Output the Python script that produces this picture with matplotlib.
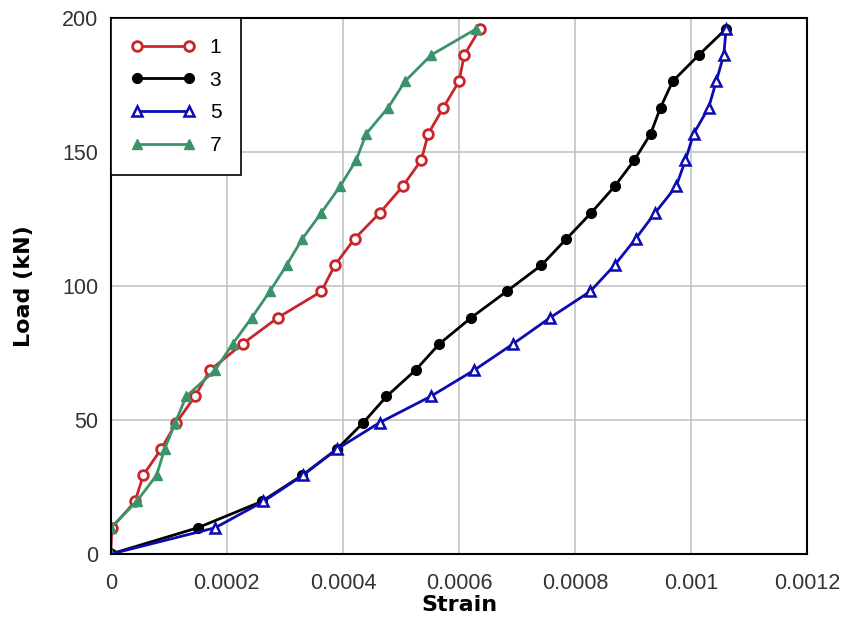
import matplotlib.pyplot as plt

plt.rcParams['font.family'] = ['Liberation Sans', 'DejaVu Sans']

# load steps (kN)
load = [0, 9.8, 19.6, 29.4, 39.2, 49, 58.8, 68.6, 78.4, 88.2, 98,
        107.8, 117.6, 127.4, 137.2, 147, 156.8, 166.6, 176.4, 186.2, 196]

strain_1 = [0, 0.000002, 0.000042, 0.000056, 0.000087, 0.000113, 0.000145,
            0.000171, 0.000227, 0.000288, 0.000363, 0.000386, 0.00042,
            0.000464, 0.000503, 0.000535, 0.000547, 0.000573, 0.0006,
            0.000609, 0.000636]
strain_3 = [0, 0.00015, 0.00026, 0.00033, 0.00039, 0.000435, 0.000475,
            0.000525, 0.000566, 0.000621, 0.000682, 0.000742, 0.000785,
            0.000828, 0.000868, 0.000902, 0.00093, 0.000947, 0.000968,
            0.001013, 0.00106]
strain_5 = [0, 0.00018, 0.000263, 0.000331, 0.00039, 0.000463, 0.000551,
            0.000626, 0.000693, 0.000757, 0.000826, 0.000868, 0.000904,
            0.000938, 0.000974, 0.00099, 0.001004, 0.00103, 0.001043,
            0.001056, 0.00106]
strain_7 = [0, 0, 0.0000447, 0.000079, 0.000093, 0.000111, 0.00013,
            0.00018, 0.00021, 0.000243, 0.000274, 0.000303, 0.00033,
            0.000363, 0.000395, 0.000423, 0.00044, 0.000478, 0.000507,
            0.000552, 0.00063]

xticks = [0, 0.0002, 0.0004, 0.0006, 0.0008, 0.001, 0.0012]
xtick_labels = ['0', '0.0002', '0.0004', '0.0006', '0.0008', '0.001', '0.0012']
yticks = [0, 50, 100, 150, 200]

fig = plt.figure(figsize=(8.49, 6.30), dpi=100)
ax = fig.add_axes([0.1304, 0.1206, 0.8206, 0.8508])

ax.plot(strain_1, load, color='#c8262a', lw=2, marker='o', ms=7,
        mfc='white', mec='#c8262a', mew=2, label='1')
ax.plot(strain_3, load, color='black', lw=2, marker='o', ms=7,
        mfc='black', mec='black', label='3')
ax.plot(strain_5, load, color='#0b0bb0', lw=2, marker='^', ms=7,
        mfc='white', mec='#0b0bb0', mew=1.8, label='5')
ax.plot(strain_7, load, color='#3b936b', lw=2, marker='^', ms=7,
        mfc='#3b936b', mec='#3b936b', label='7')

ax.set_xlim(0, 0.0012)
ax.set_ylim(0, 200)
ax.set_xticks(xticks)
ax.set_xticklabels(xtick_labels)
ax.set_yticks(yticks)
ax.tick_params(length=0, labelsize=15.5, labelcolor='#333333')
ax.tick_params(axis='x', pad=14)
ax.tick_params(axis='y', pad=9)
ax.grid(True, color='#c4c4c4', lw=1.2)
ax.set_axisbelow(True)
for s in ax.spines.values():
    s.set_linewidth(1.5)

ax.set_xlabel('Strain', fontsize=16, fontweight='bold', family='DejaVu Sans')
ax.set_ylabel('Load (kN)', fontsize=16, fontweight='bold', family='DejaVu Sans')
ax.xaxis.set_label_coords(0.5, -0.076)
ax.yaxis.set_label_coords(-0.11, 0.5)

leg = ax.legend(loc='upper left', fontsize=15, fancybox=False,
                edgecolor='black', framealpha=1, borderaxespad=0,
                numpoints=2, handlelength=3.1, handletextpad=0.7,
                labelspacing=0.66, borderpad=0.95)
leg.get_frame().set_linewidth(1.2)

fig.savefig('out.png', dpi=100)
